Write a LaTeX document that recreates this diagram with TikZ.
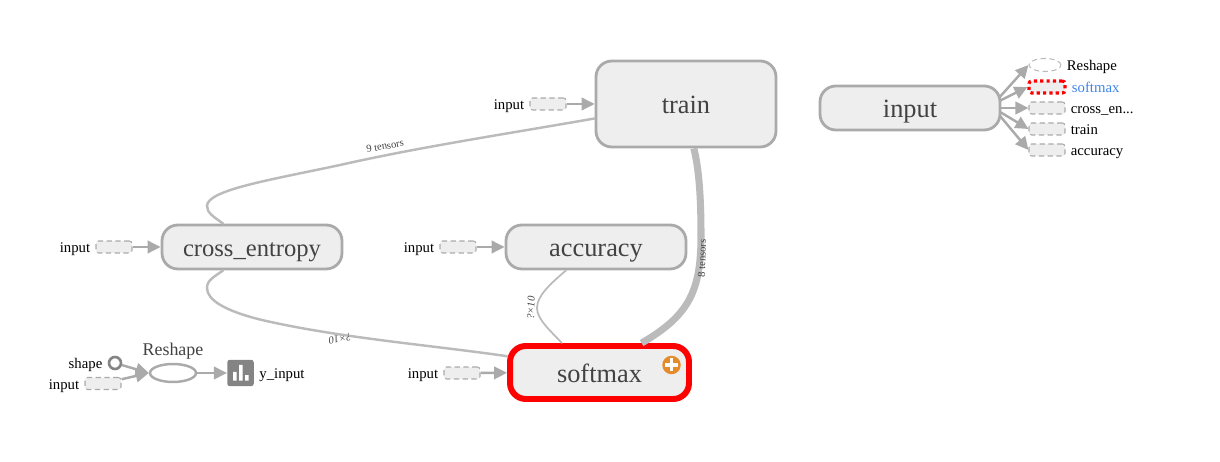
\documentclass[tikz,border=0pt]{standalone}
\usepackage{fontspec}
\setmainfont{Liberation Serif}
\usetikzlibrary{arrows.meta,shapes.geometric,backgrounds}
\definecolor{edgegray}{HTML}{BBBBBB}
\definecolor{linegray}{HTML}{AAAAAA}
\definecolor{boxfill}{HTML}{EEEEEE}
\definecolor{textgray}{HTML}{424242}
\definecolor{icongray}{HTML}{848484}
\definecolor{linkblue}{HTML}{3F85E8}
\definecolor{plusorange}{HTML}{E58B2A}

\begin{document}
\begin{tikzpicture}[x=0.02cm, y=-0.02cm, every node/.style={font=\fontsize{8.4}{10}\selectfont}, >={Triangle[length=2.6mm,width=2.5mm]},
	groupbox/.style={draw=linegray, line width=1.6pt, fill=boxfill, rounded corners=9pt, minimum width=3.6cm, text=textgray, text height=13pt, text depth=2pt, font=\fontsize{15}{17}\selectfont},
	stub/.style={draw=linegray, densely dashed, line width=0.6pt, fill=boxfill, rounded corners=1.5pt, minimum width=0.72cm, minimum height=0.24cm, inner sep=0pt},
	tag/.style={inner sep=0pt, text height=8pt, text depth=1.6pt},
	flow/.style={->, draw=linegray, line width=1.4pt},
	tensor/.style={draw=edgegray, line width=1.4pt, line cap=round},
	tinylabel/.style={font=\fontsize{6}{7}\selectfont, text=textgray, inner sep=0pt}]
	\useasboundingbox (0,0) rectangle (1220,462);
	\node[groupbox, minimum height=1.72cm] (train) at (686,104) {train};
	\node[groupbox, minimum height=0.88cm] (inputgrp) at (910,108) {input};
	\node[groupbox, minimum height=0.88cm, font=\fontsize{14}{16}\selectfont] (crossent) at (252,247) {cross\_entropy};
	\node[groupbox, minimum height=0.88cm] (accuracy) at (596,247) {accuracy};
	\node[groupbox, draw=red, line width=3.4pt, minimum height=1.06cm, minimum width=3.58cm] (softmax) at (599.5,372.5) {softmax};
	\node[circle, fill=plusorange, minimum size=0.37cm, inner sep=0pt] (plusbtn) at (671.5,365) {};
	\draw[white, line width=1.8pt] (plusbtn.center) ++(-6.5,0) -- ++(13,0) (plusbtn.center) ++(0,-6.5) -- ++(0,13);

	\node[stub, label={[tag, xshift=-1mm]left:input}] (traininput) at (548,104) {};
	\node[stub, label={[tag, xshift=-1mm]left:input}] (crossinput) at (114,247) {};
	\node[stub, label={[tag, xshift=-1mm]left:input}] (accinput) at (458,247) {};
	\node[stub, label={[tag, xshift=-1mm]left:input}] (softinput) at (462,373) {};
	\draw[flow] (traininput) -- (train);
	\draw[flow] (crossinput) -- (crossent);
	\draw[flow] (accinput) -- (accuracy);
	\draw[flow] (softinput) -- (softmax);

	\draw[tensor] (train.189) .. controls (500,135) and (420,147) .. (340,165) .. controls (270,180) and (207,190) .. (207,206) .. controls (207,213) and (214,217) .. (crossent.141);
	\draw[tensor] (crossent.219) .. controls (214,277) and (207,280) .. (207,288) .. controls (207,300) and (225,311) .. (262,320) .. controls (340,338) and (430,345) .. (softmax.170);
	\draw[tensor, line width=1pt] (accuracy.218) .. controls (550,284) and (537,296) .. (537,308) .. controls (537,320) and (552,332) .. (softmax.142);
	\draw[draw=edgegray, line width=4pt] (train.-80) .. controls (698,165) and (701,190) .. (701,235) .. controls (701,290) and (690,315) .. (softmax.35);
	\node[tinylabel, rotate=10] (ninetens) at (385,146) {9 tensors};
	\node[tinylabel, rotate=88] (eighttens) at (702,258.5) {8 tensors};
	\node[tinylabel, rotate=191] (flatlabel) at (340,339) {\textit{?×10}};
	\node[tinylabel, rotate=88] (steeplabel) at (531,308) {\textit{?×10}};

	\node[circle, draw=icongray, line width=1.5pt, minimum size=0.24cm, inner sep=0pt, label={[tag, xshift=-1mm]left:shape}] (shapenode) at (115,363) {};
	\node[stub, label={[tag, xshift=-1mm]left:input}] (reshapeinput) at (103,383.5) {};
	\node[ellipse, draw=linegray, line width=1.4pt, minimum width=0.92cm, minimum height=0.36cm, inner sep=0pt, label={[inner sep=1.5pt, text=textgray, font=\fontsize{10.2}{12}\selectfont]above:Reshape}] (reshape) at (173,373) {};
	\node[fill=icongray, rounded corners=1.5pt, minimum size=0.53cm, inner sep=0pt, label={[tag, xshift=1mm]right:y\_input}] (yinput) at (240.5,373) {};
	\fill[white] (yinput.center) ++(-7.5,-1) rectangle ++(3.5,8.7) (yinput.center) ++(-1.5,-8) rectangle ++(3.5,15.7) (yinput.center) ++(4.5,2) rectangle ++(3.5,5.7);
	\draw[flow] (shapenode) -- (reshape.west);
	\draw[flow] (reshapeinput) -- (reshape.west);
	\draw[flow] (reshape) -- (yinput);

	\node[ellipse, draw=linegray!80, densely dashed, line width=0.6pt, minimum width=0.64cm, minimum height=0.26cm, inner sep=0pt, label={[tag, xshift=1mm]right:Reshape}] (auxreshape) at (1045,65) {};
	\node[stub, draw=red, dash pattern=on 1.8pt off 1.8pt, line width=1.8pt, label={[tag, xshift=1mm, text=linkblue]right:softmax}] (auxsoftmax) at (1047,87) {};
	\node[stub, label={[tag, xshift=1mm]right:cross\_en...}] (auxcross) at (1047,108) {};
	\node[stub, label={[tag, xshift=1mm]right:train}] (auxtrain) at (1047,129) {};
	\node[stub, label={[tag, xshift=1mm]right:accuracy}] (auxacc) at (1047,150) {};
	\begin{scope}[on background layer]
		\draw[flow, shorten <=-5pt] (inputgrp.8) -- (auxreshape.west);
		\draw[flow, shorten <=-5pt] (inputgrp.5) -- (auxsoftmax.west);
		\draw[flow, shorten <=-5pt] (inputgrp.0) -- (auxcross.west);
		\draw[flow, shorten <=-5pt] (inputgrp.-3) -- (auxtrain.west);
		\draw[flow, shorten <=-5pt] (inputgrp.-6) -- (auxacc.west);
	\end{scope}
\end{tikzpicture}
\end{document}
